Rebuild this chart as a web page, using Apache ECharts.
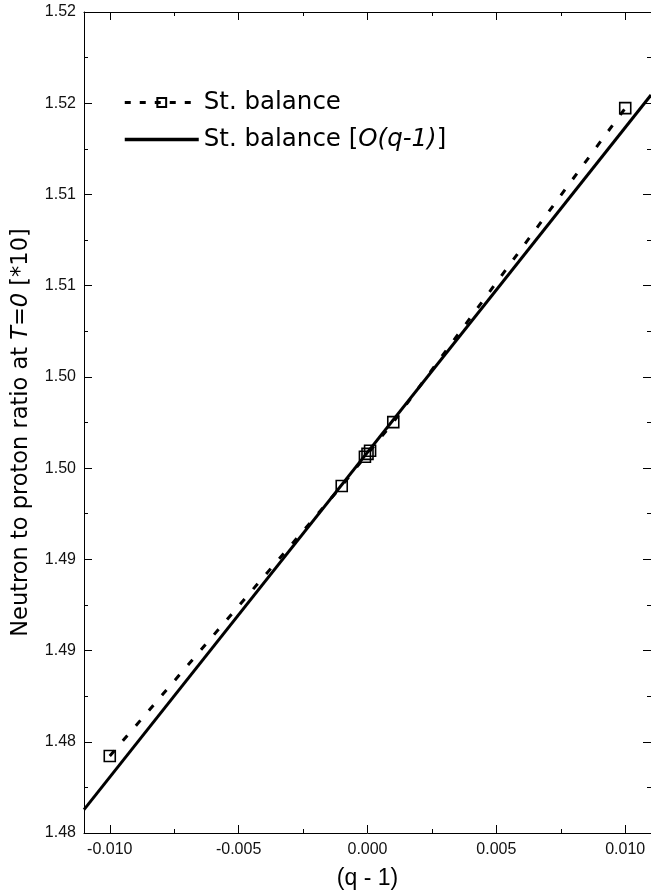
<!DOCTYPE html>
<html lang="en">
  <head>
    <meta charset="UTF-8" />
    <title>Neutron to proton ratio vs (q - 1)</title>
    <style>
      body {
        margin: 0;
        background: #fff;
      }

      #main {
        width: 651px;
        height: 895px;
      }
    </style>
  </head>

  <body>
    <div id="main"></div>

    <script src="https://cdn.jsdelivr.net/npm/echarts@6.0.0/dist/echarts.min.js"></script>
    <script>
      // St. balance points (dashed with squares)
      var qMinusOne = [-0.01, -0.001, -0.0001, 0, 0.0001, 0.001, 0.01];
      var ratioBalance = [1.48422, 1.49902, 1.50062, 1.50078, 1.50095, 1.50252, 1.51973];
      // first order approximation (solid)
      var qLinear = [-0.011, 0.011];
      var ratioLinear = [1.48128, 1.52045];
      var xMajor = [-0.01, -0.005, 0, 0.005, 0.01];
      var xMinor = [-0.0075, -0.0025, 0.0025, 0.0075];

      var FONT = "Liberation Sans, Arial, sans-serif";
      var WIDE = "DejaVu Sans, sans-serif";
      var black = "#000";

      function pairs(xs, ys) {
        return xs.map((x, i) => [x, ys[i]]);
      }

      function xAx(pos, ticks, len, withLabels) {
        return {
          type: "value",
          position: pos,
          min: -0.011,
          max: 0.011,
          axisLine: {
            show: len === 8,
            onZero: false,
            lineStyle: { color: black, width: 1 }
          },
          axisTick: {
            inside: true,
            length: len,
            customValues: ticks,
            lineStyle: { color: black, width: 1 }
          },
          axisLabel: {
            show: withLabels,
            customValues: ticks,
            formatter: v => v.toFixed(3),
            fontFamily: FONT,
            fontSize: 16,
            color: "#111",
            margin: 9
          },
          splitLine: { show: false }
        };
      }

      function yAx(pos, withLabels) {
        return {
          type: "value",
          position: pos,
          min: 1.48,
          max: 1.525,
          interval: 0.005,
          axisLine: { show: true, onZero: false, lineStyle: { color: black, width: 1 } },
          axisTick: { inside: true, length: 8, lineStyle: { color: black } },
          minorTick: {
            show: true,
            splitNumber: 2,
            length: 4,
            lineStyle: { color: black }
          },
          axisLabel: {
            show: withLabels,
            showMinLabel: true,
            showMaxLabel: true,
            // origin-style labels: two decimals, truncated
            formatter: v => (Math.floor(v * 100 + 1e-6) / 100).toFixed(2),
            fontFamily: FONT,
            fontSize: 16,
            color: "#111",
            margin: 8
          },
          splitLine: { show: false },
          minorSplitLine: { show: false }
        };
      }

      var xMain = xAx("bottom", xMajor, 8, true);
      xMain.name = "(q - 1)";
      xMain.nameLocation = "middle";
      xMain.nameGap = 34;
      xMain.nameTextStyle = { fontFamily: FONT, fontSize: 23, color: black };

      var yMain = yAx("left", true);
      yMain.name = "Neutron to proton ratio at {i|T=0} [*10]";
      yMain.nameLocation = "middle";
      yMain.nameGap = 51;
      yMain.nameTextStyle = {
        fontFamily: WIDE,
        fontSize: 22.5,
        color: black,
        padding: [0, 20, 0, 0],
        rich: { i: { fontFamily: WIDE, fontSize: 22.5, fontStyle: "italic", color: black } }
      };

      var chart = echarts.init(document.getElementById("main"));
      chart.setOption({
        animation: false,
        backgroundColor: "#fff",
        grid: { left: 84, top: 12, width: 573, bottom: 62 },
        legend: {
          orient: "vertical",
          left: 118,
          top: 85,
          itemWidth: 74,
          itemHeight: 11,
          itemGap: 12,
          textStyle: {
            fontFamily: WIDE,
            fontSize: 24.5,
            color: black,
            rich: { i: { fontFamily: WIDE, fontSize: 24.5, fontStyle: "italic", color: black } }
          },
          formatter: name =>
            name === "St. balance [O(q-1)]" ? "St. balance [{i|O(q-1)}]" : name,
          data: [
            { name: "St. balance", lineStyle: { width: 3, type: [6, 9] } },
            {
              name: "St. balance [O(q-1)]",
              itemStyle: { color: "rgba(0,0,0,0)", borderWidth: 0 },
              lineStyle: { width: 3.5 }
            }
          ]
        },
        xAxis: [
          xMain,
          xAx("bottom", xMinor, 4, false),
          xAx("top", xMajor, 8, false),
          xAx("top", xMinor, 4, false)
        ],
        yAxis: [yMain, yAx("right", false)],
        series: [
          {
            name: "St. balance",
            type: "line",
            data: pairs(qMinusOne, ratioBalance),
            symbol: "rect",
            symbolSize: 11,
            itemStyle: { color: "rgba(0,0,0,0)", borderColor: black, borderWidth: 1.6 },
            lineStyle: { color: black, width: 3, type: [7, 13] },
            z: 3
          },
          {
            name: "St. balance [O(q-1)]",
            type: "line",
            data: pairs(qLinear, ratioLinear),
            symbol: "none",
            itemStyle: { color: black },
            lineStyle: { color: black, width: 3 },
            z: 2
          }
        ]
      });
    </script>
  </body>
</html>
